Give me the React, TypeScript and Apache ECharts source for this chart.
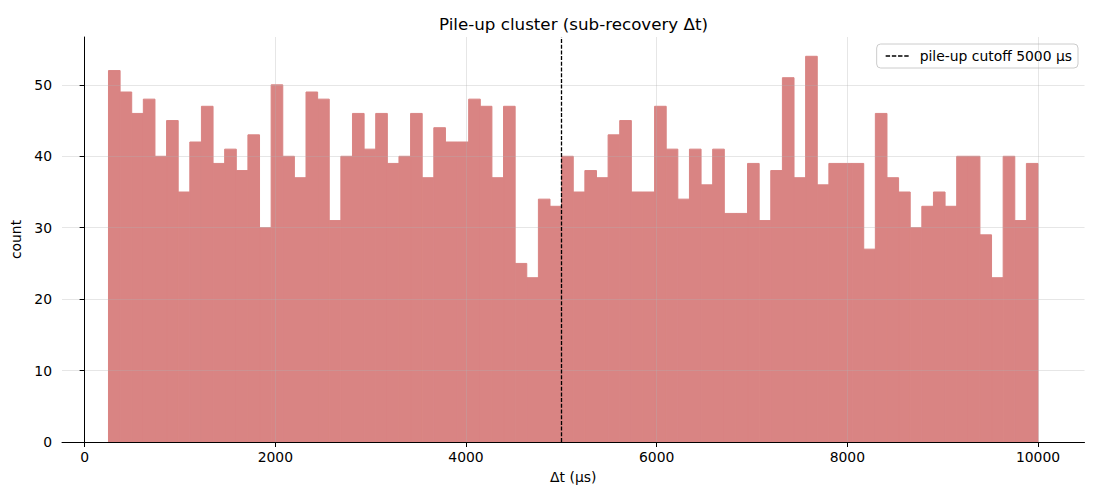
import React, { useEffect, useRef } from "react";
import * as echarts from "echarts";

// ---- data ----
const BIN_START = 250;
const BIN_END = 10000;
const COUNTS = [
  52, 49, 46, 48, 40, 45, 35, 42, 47, 39, 41, 38, 43, 30, 50, 40, 37, 49, 48, 31,
  40, 46, 41, 46, 39, 40, 46, 37, 44, 42, 42, 48, 47, 37, 47, 25, 23, 34, 33, 40, 35,
  38, 37, 43, 45, 35, 35, 47, 41, 34, 41, 36, 41, 32, 32, 39, 31, 38, 51, 37, 54, 36,
  39, 39, 39, 27, 46, 37, 35, 30, 33, 35, 33, 40, 40, 29, 23, 40, 31, 39,
];
const CUTOFF = 5000;
const CUTOFF_NAME = "pile-up cutoff 5000 µs";
const X_TICKS = [0, 2000, 4000, 6000, 8000, 10000];
const Y_TICKS = [0, 10, 20, 30, 40, 50];
const TITLE = "Pile-up cluster (sub-recovery Δt)";
const X_LABEL = "Δt (µs)";
const Y_LABEL = "count";

const FONT = "DejaVu Sans";
const BAR_COLOR = "#d98483";
const GRID_COLOR = "rgba(176,176,176,0.32)";
const DASH_ICON =
  "path://M0,0h4.4v1.3h-4.4z M6.2,0h4.4v1.3h-4.4z M12.4,0h4.4v1.3h-4.4z M18.6,0h4.4v1.3h-4.4z";

export default function App() {
  const ref = useRef<HTMLDivElement>(null);

  useEffect(() => {
    if (!ref.current) return;
    const chart = echarts.init(ref.current, undefined, { renderer: "svg" });

    const n = COUNTS.length;
    const w = (BIN_END - BIN_START) / n;
    const bins = COUNTS.map((c, i) => [BIN_START + i * w, BIN_START + (i + 1) * w, c]);
    const span = BIN_END - BIN_START;
    const xMin = BIN_START - span * 0.05;
    const xMax = BIN_END + span * 0.05;
    const yMax = Math.max(...COUNTS) * 1.05;

    const axisCommon = {
      z: 6,
      splitLine: { show: false },
      axisLine: { show: true, lineStyle: { color: "#000", width: 1 } },
      axisTick: { show: true, inside: false, length: 5, lineStyle: { color: "#000", width: 1 } },
      nameTextStyle: { fontFamily: FONT, fontSize: 13.9, color: "#000" },
    };

    chart.setOption({
      animation: false,
      backgroundColor: "#fff",
      title: {
        text: TITLE,
        left: 573.5,
        textAlign: "center",
        top: 15,
        padding: 0,
        textStyle: { fontFamily: FONT, fontSize: 16.7, fontWeight: "normal", color: "#000" },
      },
      legend: {
        data: [{ name: CUTOFF_NAME, icon: DASH_ICON }],
        right: 22,
        top: 44,
        orient: "vertical",
        padding: [5, 6, 5, 9],
        itemWidth: 23,
        itemHeight: 12,
        borderColor: "#cccccc",
        borderWidth: 1,
        borderRadius: 4,
        backgroundColor: "rgba(255,255,255,0.8)",
        itemStyle: { color: "#000" },
        textStyle: { fontFamily: FONT, fontSize: 13.9, color: "#000", padding: [0, 0, 0, 6] },
      },
      grid: { left: 62, right: 15.5, top: 37, bottom: 58, containLabel: false },
      xAxis: {
        ...axisCommon,
        type: "value",
        min: xMin,
        max: xMax,
        name: X_LABEL,
        nameLocation: "middle",
        nameGap: 28,
        axisTick: { ...axisCommon.axisTick, customValues: X_TICKS },
        axisLabel: {
          customValues: X_TICKS,
          formatter: (v: number) => String(v),
          fontFamily: FONT,
          fontSize: 13.9,
          color: "#000",
          margin: 8,
        },
      },
      yAxis: {
        ...axisCommon,
        type: "value",
        min: 0,
        max: yMax,
        name: Y_LABEL,
        nameLocation: "middle",
        nameGap: 26,
        axisTick: { ...axisCommon.axisTick, customValues: Y_TICKS },
        axisLabel: {
          customValues: Y_TICKS,
          formatter: (v: number) => String(v),
          fontFamily: FONT,
          fontSize: 13.9,
          color: "#000",
          margin: 10,
        },
      },
      series: [
        {
          type: "custom",
          name: "hist",
          z: 2,
          data: bins,
          encode: { x: [0, 1], y: 2 },
          renderItem: (_params: any, api: any) => {
            const p0 = api.coord([api.value(0), api.value(2)]);
            const p1 = api.coord([api.value(1), 0]);
            return {
              type: "rect",
              shape: { x: p0[0], y: p0[1], width: p1[0] - p0[0], height: p1[1] - p0[1] },
              style: { fill: BAR_COLOR, stroke: BAR_COLOR, lineWidth: 1 },
            };
          },
          silent: true,
        },
        {
          type: "line",
          name: "grid",
          z: 3,
          data: [],
          silent: true,
          markLine: {
            silent: true,
            symbol: ["none", "none"],
            label: { show: false },
            lineStyle: { color: GRID_COLOR, width: 1, type: "solid" },
            emphasis: { disabled: true },
            data: [
              ...X_TICKS.map((v) => ({ xAxis: v })),
              ...Y_TICKS.filter((v) => v > 0).map((v) => ({ yAxis: v })),
            ],
          },
        },
        {
          type: "line",
          name: CUTOFF_NAME,
          z: 4,
          data: [],
          symbol: "none",
          itemStyle: { color: "#000" },
          lineStyle: { color: "#000", width: 1.3, type: [4, 1.7] },
          markLine: {
            silent: true,
            symbol: ["none", "none"],
            label: { show: false },
            emphasis: { disabled: true },
            lineStyle: { color: "#000", width: 1.3, type: [4, 1.7] },
            data: [{ xAxis: CUTOFF }],
          },
        },
      ],
    });

    return () => chart.dispose();
  }, []);

  return (
    <div
      ref={ref}
      style={{ position: "fixed", left: 0, top: 0, width: 1100, height: 500, background: "#fff" }}
    />
  );
}
